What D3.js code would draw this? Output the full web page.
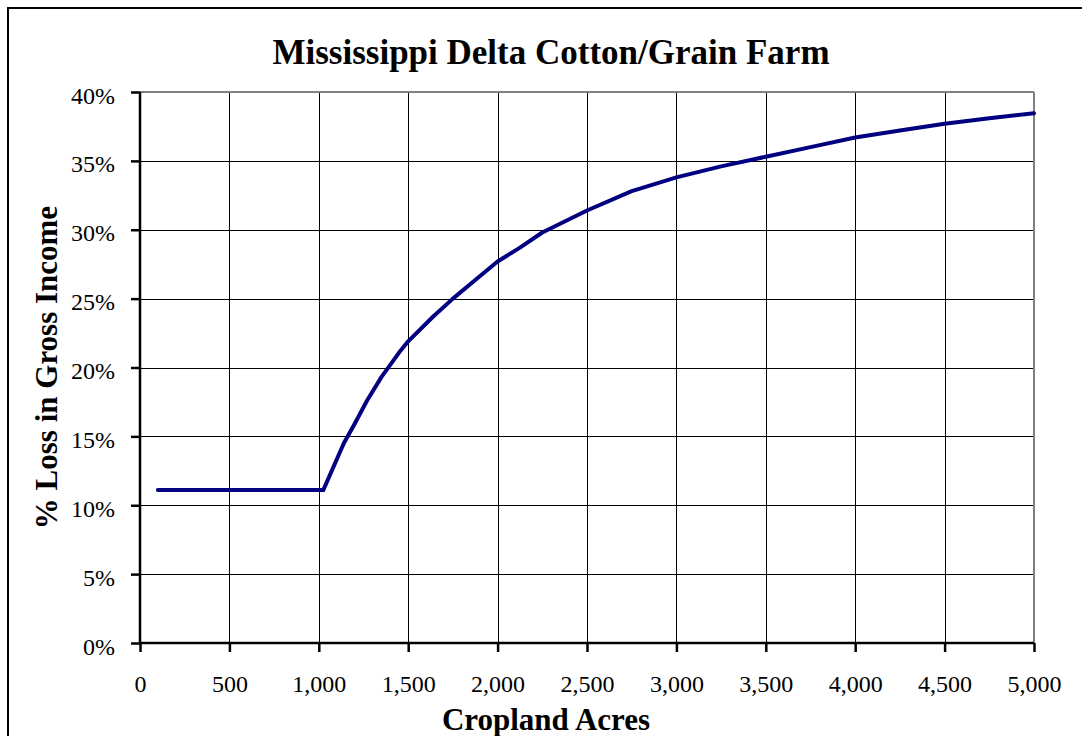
<!DOCTYPE html>
<html>
<head>
<meta charset="utf-8">
<script src="https://cdn.jsdelivr.net/npm/d3@7"></script>
<style>
  body { margin: 0; background: #fff; }
  svg text { font-family: "Liberation Serif", "Times New Roman", serif; fill: #000; }
</style>
</head>
<body>
<svg width="1082" height="736"></svg>
<script>
// acres and % loss
const acres = [100, 1025, 1140, 1200, 1270, 1350, 1450, 1500, 1640, 1750, 1870, 2000, 2125, 2250, 2500, 2750, 3000, 3250, 3500, 3750, 4000, 4250, 4500, 4750, 5000];
const lossPct = [11.1, 11.1, 14.5, 15.9, 17.6, 19.3, 21.1, 21.9, 23.7, 25.0, 26.3, 27.7, 28.7, 29.8, 31.4, 32.8, 33.8, 34.6, 35.3, 36.0, 36.7, 37.2, 37.7, 38.1, 38.45];
const xTicks = [0, 500, 1000, 1500, 2000, 2500, 3000, 3500, 4000, 4500, 5000];
const yTicks = [0, 5, 10, 15, 20, 25, 30, 35, 40];

const title = "Mississippi Delta Cotton/Grain Farm";
const xTitle = "Cropland Acres";
const yTitle = "% Loss in Gross Income";

const data = acres.map((a, i) => ({ x: a, y: lossPct[i] }));

const svg = d3.select("svg");

// outer chart frame (runs off the right/bottom edge like the original)
svg.append("rect")
    .attr("x", 8).attr("y", 8)
    .attr("width", 1200).attr("height", 900)
    .attr("fill", "none").attr("stroke", "#000").attr("stroke-width", 2);

const plotL = 140, plotR = 1034, plotT = 92, plotB = 643;

const xScale = d3.scaleLinear().domain([0, 5000]).range([plotL, plotR]);
const yScale = d3.scaleLinear().domain([0, 40]).range([plotB, plotT]);

// grid
const grid = svg.append("g").attr("shape-rendering", "crispEdges");
grid.selectAll(".vg").data(xTicks.slice(1, -1)).enter().append("line")
    .attr("x1", d => Math.round(xScale(d)) + 0.5).attr("x2", d => Math.round(xScale(d)) + 0.5)
    .attr("y1", plotT).attr("y2", plotB)
    .attr("stroke", "#000").attr("stroke-width", 1);
grid.selectAll(".hg").data(yTicks.slice(1, -1)).enter().append("line")
    .attr("y1", d => Math.round(yScale(d)) + 0.5).attr("y2", d => Math.round(yScale(d)) + 0.5)
    .attr("x1", plotL).attr("x2", plotR)
    .attr("stroke", "#000").attr("stroke-width", 1);

// top and right plot border in grey
grid.append("line").attr("x1", plotL).attr("x2", plotR).attr("y1", plotT).attr("y2", plotT)
    .attr("stroke", "#808080").attr("stroke-width", 2);
grid.append("line").attr("x1", plotR).attr("x2", plotR).attr("y1", plotT).attr("y2", plotB)
    .attr("stroke", "#808080").attr("stroke-width", 2);

// axes
const xAxis = d3.axisBottom(xScale).tickValues(xTicks).tickSize(9).tickPadding(23)
    .tickFormat(d3.format(","));
const yAxis = d3.axisLeft(yScale).tickValues(yTicks).tickSize(9).tickPadding(16)
    .tickFormat(d => d + "%");

const gx = svg.append("g").attr("transform", `translate(0,${plotB})`).call(xAxis);
const gy = svg.append("g").attr("transform", `translate(${plotL},0)`).call(yAxis);

[gx, gy].forEach(g => {
    g.select(".domain").attr("stroke", "#000").attr("stroke-width", 2.5);
    g.selectAll(".tick line").attr("stroke", "#000").attr("stroke-width", 2.5);
    g.selectAll(".tick text").attr("font-size", "24px")
        .attr("font-family", "Liberation Serif, Times New Roman, serif").attr("fill", "#000");
});
gy.selectAll(".tick text").attr("dy", "0.46em");
gy.select(".domain").attr("d", `M0,${plotT}V${plotB}`);
gx.select(".domain").attr("d", `M${plotL},0H${plotR}`);

// the curve
const line = d3.line()
    .x(d => xScale(d.x))
    .y(d => yScale(d.y));

svg.append("path")
    .datum(data)
    .attr("d", line)
    .attr("fill", "none")
    .attr("stroke", "#000080")
    .attr("stroke-width", 4)
    .attr("stroke-linejoin", "round")
    .attr("stroke-linecap", "round");

// titles
svg.append("text")
    .attr("x", 551).attr("y", 64)
    .attr("text-anchor", "middle")
    .attr("font-size", "35px").attr("font-weight", "bold")
    .text(title);

svg.append("text")
    .attr("x", 546).attr("y", 730)
    .attr("text-anchor", "middle")
    .attr("font-size", "31px").attr("font-weight", "bold")
    .text(xTitle);

svg.append("text")
    .attr("transform", `translate(57,${(plotT + plotB) / 2}) rotate(-90)`)
    .attr("text-anchor", "middle")
    .attr("font-size", "31px").attr("font-weight", "bold")
    .text(yTitle);
</script>
</body>
</html>
